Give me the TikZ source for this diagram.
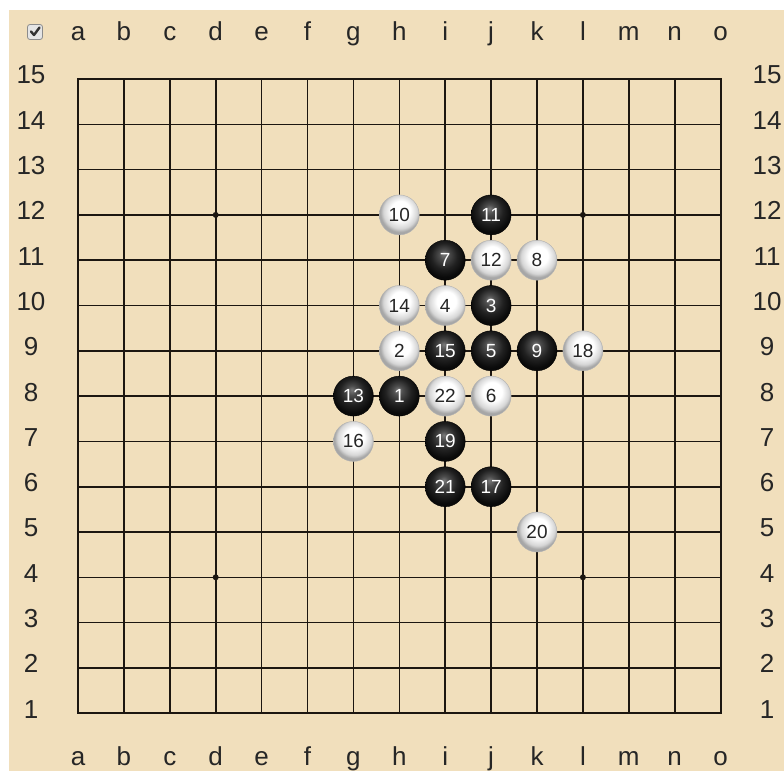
\documentclass[tikz,border=0pt]{standalone}
\usepackage{fontspec}
\setmainfont{Liberation Sans}
\definecolor{wood}{RGB}{241,223,188}
\definecolor{gridc}{RGB}{28,22,16}
\pgfdeclareradialshading{wstoneshade}{\pgfpoint{2bp}{7bp}}{%
  color(0bp)=(white); color(12bp)=(white); color(21bp)=(black!16); color(25bp)=(black!35); color(50bp)=(black!35)}
\pgfdeclareradialshading{bstoneshade}{\pgfpoint{-2bp}{8bp}}{%
  color(0bp)=(black!52); color(6bp)=(black!70); color(16bp)=(black!87); color(25bp)=(black!96); color(50bp)=(black!96)}
\tikzset{
  gridline/.style={draw=gridc, line width=1.6pt},
  lbl/.style={font=\fontsize{26}{30}\selectfont, text=black!85, inner sep=0pt},
  wstone/.style={circle, minimum size=40pt, inner sep=0pt, shading=wstoneshade, draw=black!30, line width=0.4pt, text=black!85, font=\fontsize{19}{21}\selectfont},
  bstone/.style={circle, minimum size=40pt, inner sep=0pt, shading=bstoneshade, draw=black, line width=0.4pt, text=white, font=\fontsize{19}{21}\selectfont},
  starpt/.style={circle, fill=gridc, minimum size=6pt, inner sep=0pt},
}
\newcommand\placestone[5]{\node[#4] (#1) at ({78+45.9*#2},{79+45.3*(15-#3)}) {#5};}
\begin{document}
\begin{tikzpicture}[x=1pt,y=-1pt]
\useasboundingbox (0,0) rectangle (784,771);
\fill[white] (0,0) rectangle (784,771);
\fill[wood] (9,10) rectangle (784,771);
% grid
\foreach \i in {0,...,14} {
  \draw[gridline] ({78+45.9*\i},79) -- ({78+45.9*\i},{79+45.3*14});
  \draw[gridline] (78,{79+45.3*\i}) -- ({78+45.9*14},{79+45.3*\i});
}
\draw[draw=gridc, line width=2pt] (78,79) rectangle ({78+45.9*14},{79+45.3*14});
% star points
\foreach \c/\r [count=\k] in {3/12,11/12,3/4,11/4,7/8} {
  \node[starpt] (star\k) at ({78+45.9*\c},{79+45.3*(15-\r)}) {};
}
% column labels
\foreach \l [count=\i from 0] in {a,b,c,d,e,f,g,h,i,j,k,l,m,n,o} {
  \node[lbl, anchor=base] (top\l) at ({78+45.9*\i},40) {\l};
  \node[lbl, anchor=base] (bot\l) at ({78+45.9*\i},765) {\l};
}
% row labels
\foreach \r in {1,...,15} {
  \node[lbl] (left\r) at (31,{75+45.3*(15-\r)}) {\r};
  \node[lbl] (right\r) at (767,{75+45.3*(15-\r)}) {\r};
}
% checkbox
\node[draw=black!45, fill=black!10, rounded corners=2.5pt, minimum size=15pt, inner sep=0pt, line width=0.8pt] (chk) at (35,32) {};
\draw[line width=2.4pt, draw=black!80, line cap=round, line join=round] (chk.center) ++(-4,-0.5) -- ++(3,3.5) -- ++(5.5,-7.5);
% stones
\placestone{s1}{7}{8}{bstone}{1}
\placestone{s2}{7}{9}{wstone}{2}
\placestone{s3}{9}{10}{bstone}{3}
\placestone{s4}{8}{10}{wstone}{4}
\placestone{s5}{9}{9}{bstone}{5}
\placestone{s6}{9}{8}{wstone}{6}
\placestone{s7}{8}{11}{bstone}{7}
\placestone{s8}{10}{11}{wstone}{8}
\placestone{s9}{10}{9}{bstone}{9}
\placestone{s10}{7}{12}{wstone}{10}
\placestone{s11}{9}{12}{bstone}{11}
\placestone{s12}{9}{11}{wstone}{12}
\placestone{s13}{6}{8}{bstone}{13}
\placestone{s14}{7}{10}{wstone}{14}
\placestone{s15}{8}{9}{bstone}{15}
\placestone{s16}{6}{7}{wstone}{16}
\placestone{s17}{9}{6}{bstone}{17}
\placestone{s18}{11}{9}{wstone}{18}
\placestone{s19}{8}{7}{bstone}{19}
\placestone{s20}{10}{5}{wstone}{20}
\placestone{s21}{8}{6}{bstone}{21}
\placestone{s22}{8}{8}{wstone}{22}
\end{tikzpicture}
\end{document}
